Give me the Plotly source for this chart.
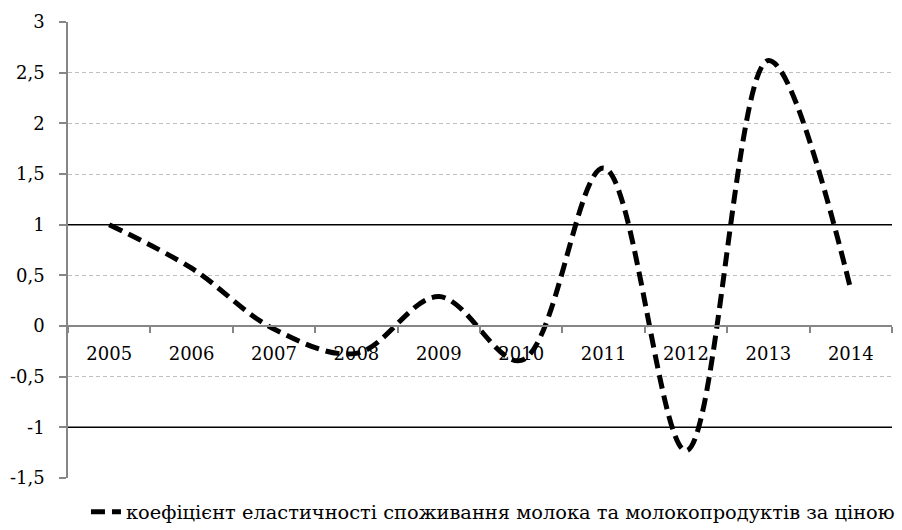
import plotly.graph_objects as go

# ---- data ----
years = ["2005", "2006", "2007", "2008", "2009", "2010", "2011", "2012", "2013", "2014"]
elasticity = [1.0, 0.57, -0.03, -0.27, 0.29, -0.34, 1.56, -1.23, 2.62, 0.36]
series_name = "коефіцієнт еластичності споживання молока та молокопродуктів за ціною"
y_tick_vals = [-1.5, -1, -0.5, 0, 0.5, 1, 1.5, 2, 2.5, 3]
y_tick_labels = ["-1,5", "-1", "-0,5", "0", "0,5", "1", "1,5", "2", "2,5", "3"]
threshold_levels = [1, -1]

FONT = "DejaVu Serif"

fig = go.Figure()
fig.add_trace(go.Scatter(
    x=years, y=elasticity, mode="lines", name=series_name,
    line=dict(color="black", width=5, dash="14px,7px", shape="spline", smoothing=1.0),
    showlegend=True,
))

for lvl in threshold_levels:
    fig.add_shape(type="line", xref="paper", yref="y", x0=0, x1=1, y0=lvl, y1=lvl,
                  line=dict(color="black", width=1.5), layer="above")

fig.update_layout(
    width=902, height=530,
    margin=dict(l=68, r=10, t=22, b=52, autoexpand=False),
    paper_bgcolor="white", plot_bgcolor="white",
    font=dict(family=FONT, size=18, color="black"),
    showlegend=True,
    legend=dict(orientation="h", x=0.0218, xanchor="left", y=-0.075, yanchor="middle",
                font=dict(family=FONT, size=19.4, color="black"),
                bgcolor="rgba(0,0,0,0)"),
    xaxis=dict(
        type="category", anchor="free", position=1/3, automargin=False,
        range=[-0.5, len(years) - 0.5],
        showline=True, linecolor="#868686", linewidth=1.5,
        ticks="outside", tickson="boundaries", ticklen=6, tickcolor="#868686", tickwidth=1.5,
        showgrid=False, zeroline=False, ticklabelstandoff=12,
        tickfont=dict(family=FONT, size=18, color="black"),
    ),
    yaxis=dict(
        range=[-1.5, 3], tickvals=y_tick_vals, ticktext=y_tick_labels, automargin=False,
        showline=True, linecolor="#868686", linewidth=1.5,
        ticks="outside", ticklen=7, tickcolor="#868686", tickwidth=1.5,
        showgrid=True, gridcolor="#BFBFBF", gridwidth=1, griddash="4px,3px",
        zeroline=False, ticklabelstandoff=11,
        tickfont=dict(family=FONT, size=18, color="black"),
    ),
)

fig.write_html("out.html", config={"displayModeBar": False},
               post_script="document.body.style.margin='0';")
